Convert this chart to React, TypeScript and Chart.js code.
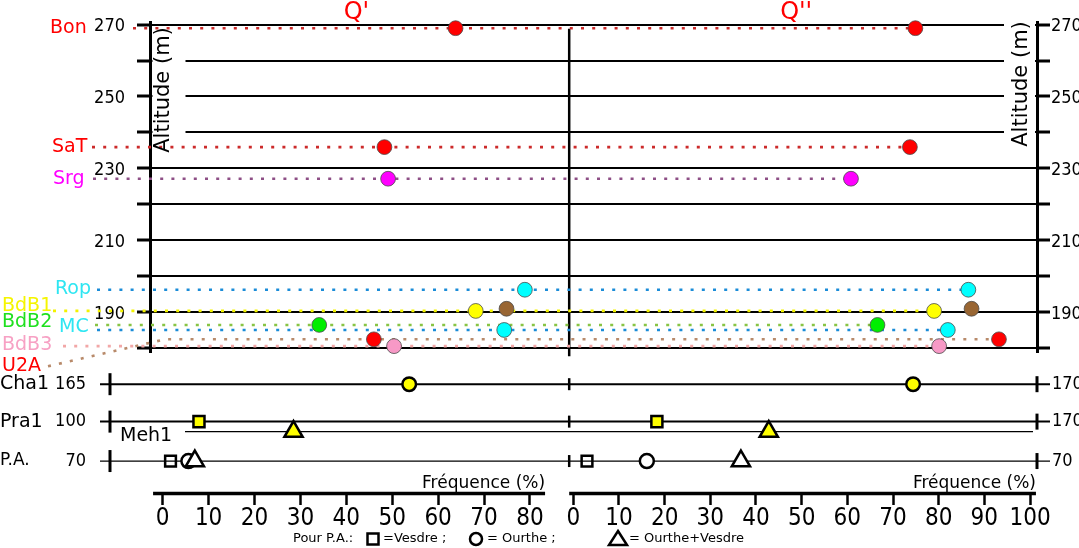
import { useEffect, useRef } from 'react';
import { Chart, registerables } from 'chart.js';

Chart.register(...registerables);

// upper panel: terrace sites, altitude (m) and frequency (%) for Q' and Q''
const sites = ['Bon', 'SaT', 'Srg', 'Rop', 'BdB1', '', 'BdB2', 'MC', 'U2A', 'BdB3'];
const altitudes = [269, 235.9, 227.1, 196.2, 190.3, 190.9, 186.4, 185, 182.4, 180.5];
const freqQ1 = [63.8, 48.3, 49.1, 78.9, 68.2, 74.9, 34.1, 74.4, 46.0, 50.4];
const freqQ2 = [74.9, 73.7, 60.8, 86.5, 79.0, 87.2, 66.6, 82.0, 93.2, 80.1];

// lower rows
const rows = ['Cha1', 'Pra1', 'Meh1'];
const rowQ1 = [53.7, 7.9, 28.5];
const rowQ2 = [74.4, 18.3, 42.8];
const paSources = ['Vesdre', 'Ourthe', 'Ourthe+Vesdre'];
const paQ1 = [1.7, 5.6, 7.0];
const paQ2 = [3.0, 16.1, 36.7];
const rowLines = ['Cha1', 'Pra1', 'Meh1', 'P.A.'];
const rowAltLeft = ['165', '100', '', '70'];
const rowAltRight = ['170', '170', '', '70'];

// ticks
const altGrid = [180, 190, 200, 210, 220, 230, 240, 250, 260, 270];
const altLabels = [190, 210, 230, 250, 270];
const freqTicksQ1 = [0, 10, 20, 30, 40, 50, 60, 70, 80];
const freqTicksQ2 = [0, 10, 20, 30, 40, 50, 60, 70, 80, 90, 100];

// ---- styling / layout ----
const SANS = '"DejaVu Sans", "Noto Sans", sans-serif';
const NARROW = '"Liberation Sans Narrow", "DejaVu Sans Condensed", "Roboto Condensed", sans-serif';
const BLACK = '#000';

const dotColors = ['#ff0000', '#ff0000', '#ff00ff', '#00ffff', '#ffff00', '#996633', '#00ee00', '#00ffff', '#ff0000', '#f799c6'];

const SITE_STYLE: Record<string, any> = {
  Bon: { text: '#ff0000', line: '#cc2a2a', x: 50, dy: 0, from: 133 },
  SaT: { text: '#ff0000', line: '#cc2a2a', x: 52, dy: 0, from: 92 },
  Srg: { text: '#ff00ff', line: '#8e4f86', x: 53, dy: 0, from: 93 },
  Rop: { text: '#2ee6f2', line: '#1a8cd8', x: 55, dy: -1, from: 97 },
  BdB1: { text: '#f5f500', line: '#f2f200', x: 2, dy: -5, from: 53 },
  BdB2: { text: '#1ee01e', line: '#88c444', x: 2, dy: -3, from: 95 },
  MC: { text: '#2ee6f2', line: '#1a8cd8', x: 59, dy: -3, from: 97 },
  BdB3: { text: '#f7a1c4', line: '#f2a7a7', x: 2, dy: -1, from: 63 },
  U2A: { text: '#ff0000', line: '#b88a6a', x: 2, dy: 27, from: 48, fromDy: 27, elbow: 165 },
};

const ROW_LEVEL: Record<string, number> = { Cha1: 3.2, Pra1: 6.95, Meh1: 7.95, 'P.A.': 10.9 };
const ROW_MARK: Record<string, any> = {
  Cha1: { pointStyle: 'circle', pointRadius: 6.8 },
  Pra1: { pointStyle: 'rect', pointRadius: 7.8 },
  Meh1: { pointStyle: 'triangle', pointRadius: 10.5 },
};
const PA_MARK: Record<string, any> = {
  Vesdre: { pointStyle: 'rect', pointRadius: 7.6, pointBackgroundColor: 'rgba(0,0,0,0)' },
  Ourthe: { pointStyle: 'circle', pointRadius: 7, pointBackgroundColor: '#fff' },
  'Ourthe+Vesdre': { pointStyle: 'triangle', pointRadius: 10.5, pointBackgroundColor: '#fff' },
};

const PANEL_EDGE = -0.9; // xR value of the divider between Q' and Q''
const AXIS_SPAN: Record<string, [number, number]> = { xL: [-2.1, 83.3], xR: [-0.9, 101.3] };
const LEFT_AXIS_W = 55;

function strokeLine(ctx: CanvasRenderingContext2D, x1: number, y1: number, x2: number, y2: number) {
  ctx.beginPath();
  ctx.moveTo(x1, y1);
  ctx.lineTo(x2, y2);
  ctx.stroke();
}

function drawSymbol(ctx: CanvasRenderingContext2D, kind: string, x: number, y: number) {
  ctx.save();
  ctx.strokeStyle = BLACK;
  ctx.lineWidth = 2.5;
  ctx.beginPath();
  if (kind === 'square') ctx.rect(x - 5.5, y - 5.5, 11, 11);
  if (kind === 'circle') ctx.arc(x, y, 6, 0, Math.PI * 2);
  if (kind === 'triangle') {
    ctx.moveTo(x, y - 8);
    ctx.lineTo(x + 9, y + 6);
    ctx.lineTo(x - 9, y + 6);
    ctx.closePath();
  }
  ctx.stroke();
  ctx.restore();
}

const terracePlugin = {
  id: 'terraces',
  beforeDatasetsDraw(chart: any) {
    const { ctx, chartArea: area } = chart;
    const { xL, xR, yTop, yBot } = chart.scales;
    const edge = xR.getPixelForValue(PANEL_EDGE);
    ctx.save();

    // room for the rotated axis titles
    ctx.fillStyle = '#fff';
    ctx.fillRect(area.left + 2.5, yTop.getPixelForValue(270) + 2, 33, 132);
    ctx.fillRect(area.right - 33, area.top, 31, 136);

    ctx.strokeStyle = BLACK;
    ctx.lineWidth = 2.5;
    strokeLine(ctx, edge, area.top + 6, edge, yTop.bottom + 4);

    // lower rows with their end ticks
    rowLines.forEach((name) => {
      const y = yBot.getPixelForValue(ROW_LEVEL[name]);
      if (name === 'Meh1') {
        ctx.lineWidth = 1.2;
        strokeLine(ctx, area.left + 35, y, area.right - 4, y);
        return;
      }
      ctx.lineWidth = name === 'P.A.' ? 1.3 : 2;
      strokeLine(ctx, area.left - 50, y, area.right + 13, y);
      ctx.lineWidth = 3;
      strokeLine(ctx, area.left - 40, y - 11, area.left - 40, y + 11);
      strokeLine(ctx, area.right, y - 8, area.right, y + 8);
      ctx.lineWidth = 2.5;
      strokeLine(ctx, edge, y - 6, edge, y + 6);
    });

    // dotted connectors from the site names to the Q'' points
    ctx.setLineDash([3, 8.2]);
    ctx.lineWidth = 2.6;
    sites.forEach((s, i) => {
      const st = SITE_STYLE[s];
      if (!st) return;
      const y = yTop.getPixelForValue(altitudes[i]);
      const x2 = xR.getPixelForValue(freqQ2[i]);
      ctx.strokeStyle = st.line;
      ctx.beginPath();
      if (st.elbow) {
        ctx.moveTo(st.from, y + st.fromDy);
        ctx.lineTo(st.elbow, y);
      } else {
        ctx.moveTo(st.from, y);
      }
      ctx.lineTo(x2, y);
      ctx.stroke();
    });
    ctx.setLineDash([]);

    // frequency axes
    ctx.strokeStyle = BLACK;
    ctx.lineWidth = 3.5;
    [xL, xR].forEach((sc: any) => {
      const [a, b] = AXIS_SPAN[sc.id];
      strokeLine(ctx, sc.getPixelForValue(a), sc.top + 0.5, sc.getPixelForValue(b), sc.top + 0.5);
    });
    ctx.restore();
  },
  afterDraw(chart: any) {
    const { ctx, chartArea: area } = chart;
    const { xL, xR, yTop, yBot } = chart.scales;
    ctx.save();
    ctx.textBaseline = 'middle';

    // panel titles
    ctx.fillStyle = '#ff0000';
    ctx.font = `24px ${SANS}`;
    ctx.textAlign = 'center';
    ctx.fillText("Q'", xL.getPixelForValue(42.2), 13);
    ctx.fillText("Q''", xR.getPixelForValue(48.8), 13);

    // rotated axis titles
    ctx.fillStyle = BLACK;
    ctx.font = `21px ${SANS}`;
    [[area.left + 14, 90], [area.right - 15, 84]].forEach(([x, y]) => {
      ctx.save();
      ctx.translate(x, y);
      ctx.rotate(-Math.PI / 2);
      ctx.fillText('Altitude (m)', 0, 0);
      ctx.restore();
    });

    // site names
    ctx.textAlign = 'left';
    ctx.font = `19px ${SANS}`;
    sites.forEach((s, i) => {
      const st = SITE_STYLE[s];
      if (!st) return;
      ctx.fillStyle = st.text;
      ctx.fillText(s, st.x, yTop.getPixelForValue(altitudes[i]) + st.dy);
    });

    // row names and their altitudes
    ctx.fillStyle = BLACK;
    rowLines.forEach((name, i) => {
      const y = yBot.getPixelForValue(ROW_LEVEL[name]);
      if (name === 'Meh1') {
        ctx.font = `19px ${SANS}`;
        ctx.textAlign = 'left';
        ctx.fillText(name, area.left - 30, y + 4);
        return;
      }
      ctx.font = `${name === 'P.A.' ? 17 : 19}px ${SANS}`;
      ctx.textAlign = 'left';
      ctx.fillText(name, 0, y);
      ctx.font = `18px ${NARROW}`;
      ctx.textAlign = 'right';
      ctx.fillText(rowAltLeft[i], area.left - 64, y);
      ctx.textAlign = 'left';
      ctx.fillText(rowAltRight[i], area.right + 15, y);
    });

    // axis names
    ctx.font = `17px ${SANS}`;
    ctx.textAlign = 'right';
    ctx.textBaseline = 'alphabetic';
    ctx.fillText('Fréquence (%)', xL.getPixelForValue(AXIS_SPAN.xL[1]), xL.top - 5);
    ctx.fillText('Fréquence (%)', xR.getPixelForValue(AXIS_SPAN.xR[1]), xR.top - 5);

    // legend for the P.A. symbols
    ctx.font = `13px ${SANS}`;
    ctx.textAlign = 'left';
    ctx.textBaseline = 'middle';
    const ly = 539;
    ctx.fillText('Pour P.A.:', 293, ly);
    drawSymbol(ctx, 'square', 373, ly);
    ctx.fillText('=Vesdre ;', 383, ly);
    drawSymbol(ctx, 'circle', 476, ly);
    ctx.fillText('= Ourthe ;', 487, ly);
    drawSymbol(ctx, 'triangle', 618, ly);
    ctx.fillText('= Ourthe+Vesdre', 629, ly);
    ctx.restore();
  },
};

function panelPair(label: string, q1: number, q2: number, y: number, yAxisID: string, style: any, order = 0) {
  const base = {
    showLine: false,
    pointBackgroundColor: '#ffff00',
    pointBorderColor: BLACK,
    pointBorderWidth: 2.5,
    clip: false as const,
    order,
    ...style,
  };
  return [
    { ...base, label: `${label} Q'`, xAxisID: 'xL', yAxisID, data: [{ x: q1, y }] },
    { ...base, label: `${label} Q''`, xAxisID: 'xR', yAxisID, data: [{ x: q2, y }] },
  ];
}

function freqScale(ticks: number[], min: number, max: number, weight: number) {
  return {
    type: 'linear' as const,
    position: 'bottom' as const,
    stack: 'freq',
    stackWeight: weight,
    min,
    max,
    afterBuildTicks: (s: any) => {
      s.ticks = ticks.map((value) => ({ value }));
    },
    afterFit: (s: any) => {
      s.height = 55;
    },
    grid: { drawOnChartArea: false, tickLength: 12, tickWidth: 2.5, tickColor: BLACK },
    border: { display: false },
    ticks: {
      font: { family: NARROW, size: 24, lineHeight: 1 },
      color: BLACK,
      padding: 2,
      maxRotation: 0,
      minRotation: 0,
      autoSkip: false,
    },
  };
}

function altScale(position: 'left' | 'right', stack: string, onArea: boolean) {
  return {
    type: 'linear' as const,
    position,
    stack,
    stackWeight: 330,
    min: 178.8,
    max: 270.5,
    afterBuildTicks: (s: any) => {
      s.ticks = altGrid.map((value) => ({ value }));
    },
    afterFit: (s: any) => {
      s.width = position === 'left' ? LEFT_AXIS_W : 42;
    },
    grid: { drawOnChartArea: onArea, color: BLACK, lineWidth: 2, tickLength: 13, tickWidth: 3, tickColor: BLACK },
    border: { display: true, color: BLACK, width: 3 },
    ticks: {
      callback: (v: number) => (altLabels.includes(v) ? String(v) : ''),
      font: { family: NARROW, size: 18 },
      color: BLACK,
      padding: position === 'left' ? 12 : 1,
      labelOffset: 2,
      autoSkip: false,
    },
  };
}

function rowScale(position: 'left' | 'right', stack: string) {
  return {
    type: 'linear' as const,
    position,
    stack,
    stackWeight: 141,
    min: 0,
    max: 14.1,
    reverse: true,
    afterFit: (s: any) => {
      s.width = position === 'left' ? LEFT_AXIS_W : 42;
    },
    grid: { display: false },
    border: { display: false },
    ticks: { display: false },
  };
}

export default function App() {
  const canvasRef = useRef<HTMLCanvasElement | null>(null);
  const chartRef = useRef<Chart | null>(null);

  useEffect(() => {
    if (!canvasRef.current) return;
    if (chartRef.current) chartRef.current.destroy();

    const siteData = (freq: number[]) => sites.map((_, i) => ({ x: freq[i], y: altitudes[i] }));
    const siteStyle = {
      showLine: false,
      pointBackgroundColor: dotColors,
      pointBorderColor: '#4a4a4a',
      pointBorderWidth: 0.8,
      pointRadius: 7.4,
      clip: false as const,
      yAxisID: 'yTop',
    };

    const datasets: any[] = [
      { ...siteStyle, label: "Q'", xAxisID: 'xL', data: siteData(freqQ1) },
      { ...siteStyle, label: "Q''", xAxisID: 'xR', data: siteData(freqQ2) },
      ...rows.flatMap((r, i) => panelPair(r, rowQ1[i], rowQ2[i], ROW_LEVEL[r], 'yBot', ROW_MARK[r])),
      ...paSources.flatMap((src, j) =>
        panelPair(`P.A. ${src}`, paQ1[j], paQ2[j], ROW_LEVEL['P.A.'], 'yBot', PA_MARK[src], paSources.length - j),
      ),
    ];

    chartRef.current = new Chart(canvasRef.current, {
      type: 'scatter',
      data: { datasets },
      options: {
        responsive: false,
        animation: false,
        events: [],
        layout: { padding: { left: 150 - LEFT_AXIS_W, right: 0, top: 22, bottom: 0 } },
        plugins: { legend: { display: false }, tooltip: { enabled: false } },
        scales: {
          xL: freqScale(freqTicksQ1, -2.77, 85.9, 407),
          xR: freqScale(freqTicksQ2, -3.57, 101.53, 480),
          yBot: rowScale('left', 'alt'),
          yTop: altScale('left', 'alt', true),
          yTopR: altScale('right', 'altR', false),
          yBotR: rowScale('right', 'altR'),
        } as any,
      },
      plugins: [terracePlugin as any],
    });

    return () => {
      if (chartRef.current) {
        chartRef.current.destroy();
        chartRef.current = null;
      }
    };
  }, []);

  return (
    <div style={{ position: 'absolute', left: 0, top: 0, width: 1079, height: 548, background: '#fff' }}>
      <canvas ref={canvasRef} width={1079} height={548} style={{ display: 'block' }} />
    </div>
  );
}
